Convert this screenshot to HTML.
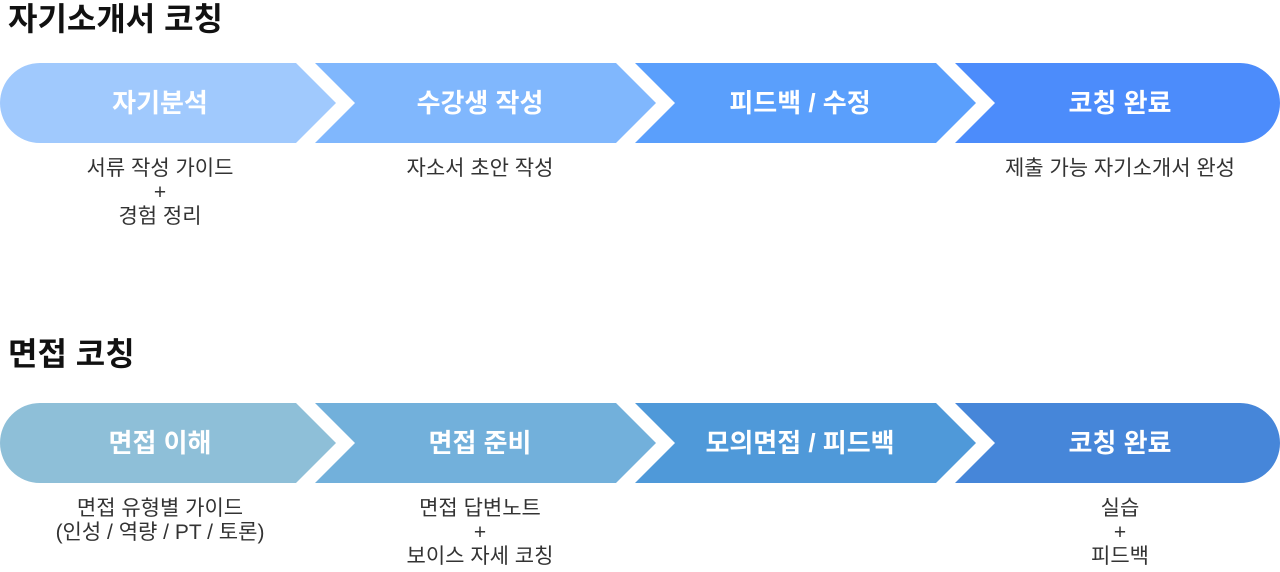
<!DOCTYPE html>
<html><head><meta charset="utf-8"><style>
body{margin:0;width:1280px;height:572px;background:#fff;overflow:hidden;position:relative;font-family:"Liberation Sans","Noto Sans CJK KR",sans-serif}
.t{position:absolute;left:8px;font-size:32px;line-height:36px;font-weight:bold;color:#111}
.s{position:absolute;width:320px;text-align:center;font-size:21px;line-height:24px;color:#333}
svg{position:absolute;left:0;top:0}
svg text{font-family:"Liberation Sans","Noto Sans CJK KR",sans-serif;font-weight:bold;font-size:26px;fill:#fff;text-anchor:middle}
</style></head><body>
<div class="t" style="top:1px">자기소개서 코칭</div>
<div class="t" style="top:336px">면접 코칭</div>
<svg width="1280" height="572">
<g transform="translate(0,63)">
<path d="M40 0 H296 L336 40 L296 80 H40 A40 40 0 0 1 40 0Z" fill="#a0c9fd"/>
<path d="M315 0 H616 L656 40 L616 80 H315 L355 40Z" fill="#80b7fd"/>
<path d="M635 0 H936 L976 40 L936 80 H635 L675 40Z" fill="#5a9ffc"/>
<path d="M955 0 H1240 A40 40 0 0 1 1240 80 H955 L995 40Z" fill="#4c8cfb"/>
<text x="160" y="49">자기분석</text><text x="480" y="49">수강생 작성</text><text x="800" y="49">피드백 / 수정</text><text x="1120" y="49">코칭 완료</text>
</g>
<g transform="translate(0,403)">
<path d="M40 0 H296 L336 40 L296 80 H40 A40 40 0 0 1 40 0Z" fill="#8ebfd8"/>
<path d="M315 0 H616 L656 40 L616 80 H315 L355 40Z" fill="#72b0db"/>
<path d="M635 0 H936 L976 40 L936 80 H635 L675 40Z" fill="#4f99d9"/>
<path d="M955 0 H1240 A40 40 0 0 1 1240 80 H955 L995 40Z" fill="#4686d9"/>
<text x="160" y="49">면접 이해</text><text x="480" y="49">면접 준비</text><text x="800" y="49">모의면접 / 피드백</text><text x="1120" y="49">코칭 완료</text>
</g>
</svg>
<div class="s" style="left:0;top:157px">서류 작성 가이드<br>+<br>경험 정리</div>
<div class="s" style="left:320px;top:157px">자소서 초안 작성</div>
<div class="s" style="left:960px;top:157px">제출 가능 자기소개서 완성</div>
<div class="s" style="left:0;top:497px">면접 유형별 가이드<br>(인성 / 역량 / PT / 토론)</div>
<div class="s" style="left:320px;top:497px">면접 답변노트<br>+<br>보이스 자세 코칭</div>
<div class="s" style="left:960px;top:497px">실습<br>+<br>피드백</div>
</body></html>
